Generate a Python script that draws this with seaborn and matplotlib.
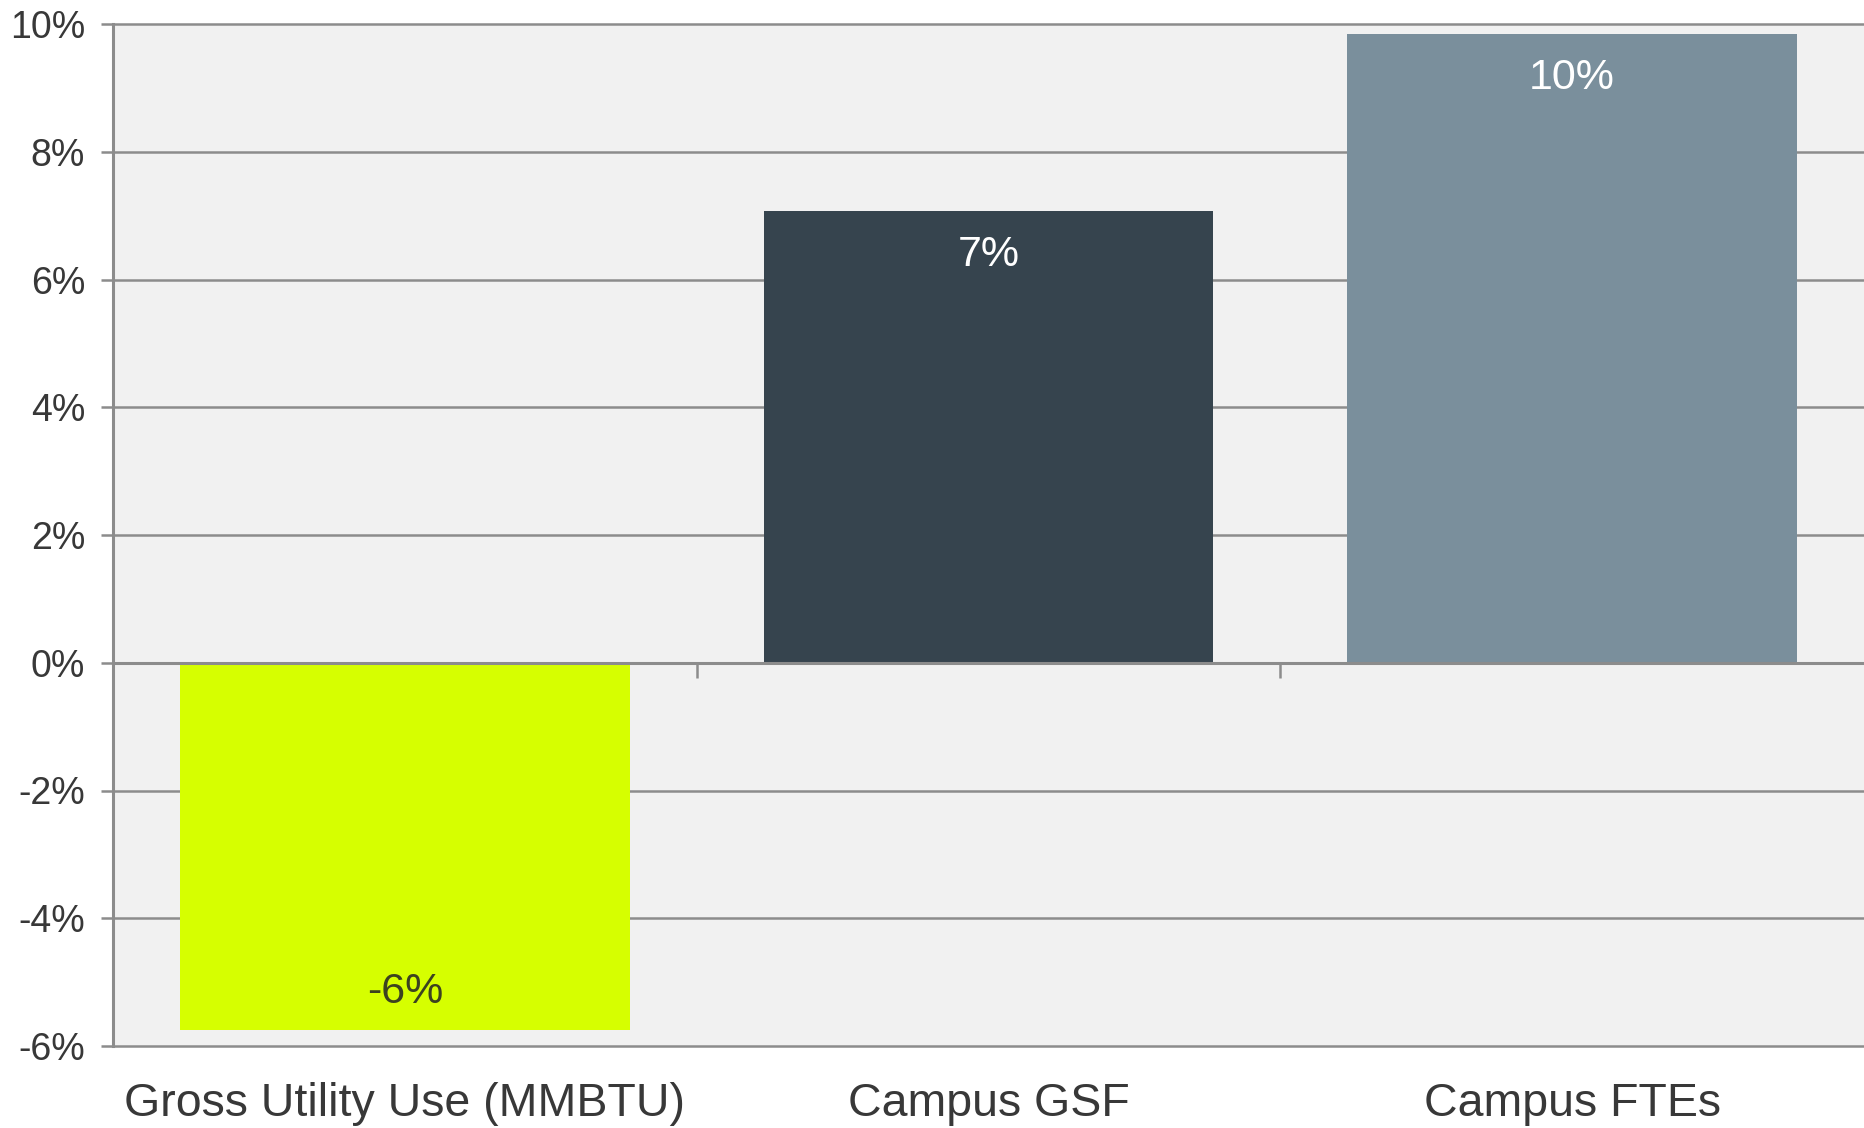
import matplotlib
matplotlib.use("Agg")
import matplotlib.pyplot as plt
import seaborn as sns
import pandas as pd

# ---- data ----
categories = ["Gross Utility Use (MMBTU)", "Campus GSF", "Campus FTEs"]
values = [-5.75, 7.07, 9.85]
value_labels = ["-6%", "7%", "10%"]
bar_colors = ["#d6ff00", "#36444e", "#7a8f9c"]
label_colors = ["#3c4220", "#ffffff", "#ffffff"]
ytick_values = [-6, -4, -2, 0, 2, 4, 6, 8, 10]
ytick_labels = ["-6%", "-4%", "-2%", "0%", "2%", "4%", "6%", "8%", "10%"]

sns.set_theme(style="white")
plt.rcParams["font.family"] = ["Liberation Sans", "DejaVu Sans"]

W, H = 1864, 1128
fig = plt.figure(figsize=(W / 100, H / 100), dpi=100)
fig.patch.set_facecolor("white")
left, top, bottom = 113, 24, 1046
ax = fig.add_axes([left / W, 1 - bottom / H, 1 - left / W, (bottom - top) / H])
ax.set_facecolor("#f1f1f1")

df = pd.DataFrame({"cat": categories, "val": values})
sns.barplot(data=df, x="cat", y="val", hue="cat", palette=bar_colors,
            width=0.77, saturation=1, ax=ax, legend=False, dodge=False,
            linewidth=0, edgecolor="none")

ax.set_xlim(-0.5, 2.5)
ax.set_ylim(min(ytick_values), max(ytick_values))
ax.set_xlabel("")
ax.set_ylabel("")

grid_c = "#8c8c8c"
ax.set_axisbelow(True)
ax.yaxis.grid(True, color=grid_c, lw=1.8)
for gl in ax.get_ygridlines():
    gl.set_clip_on(False)

ax.set_yticks(ytick_values, labels=ytick_labels)
ax.tick_params(axis="y", left=True, length=9, width=1.8, color=grid_c,
               pad=11, labelsize=27, labelcolor="#383838")

for s in ["top", "right"]:
    ax.spines[s].set_visible(False)
ax.spines["left"].set_color(grid_c)
ax.spines["left"].set_linewidth(2.2)
ax.spines["bottom"].set_position(("data", 0))
ax.spines["bottom"].set_color(grid_c)
ax.spines["bottom"].set_linewidth(2.2)

ax.set_xticks([0, 1, 2], labels=["", "", ""])
ax.set_xticks([0.5, 1.5], minor=True)
ax.tick_params(axis="x", which="major", length=0)
ax.tick_params(axis="x", which="minor", bottom=True, length=11, width=1.8,
               color=grid_c, direction="out")

sec = ax.secondary_xaxis("bottom")
sec.set_xticks([0, 1, 2], labels=categories)
sec.tick_params(length=0, pad=26, labelsize=33.5, labelcolor="#383838")
sec.spines["bottom"].set_visible(False)

# value labels inside bars
patches = [p for c in ax.containers for p in c]
for p, lab, col in zip(patches, value_labels, label_colors):
    h = p.get_height()
    end = p.get_y() + h
    off = -44 if h >= 0 else 38
    ax.annotate(lab, xy=(p.get_x() + p.get_width() / 2, end),
                xytext=(0, off), textcoords="offset pixels",
                ha="center", va="center", fontsize=31, color=col)

fig.savefig("out.png", dpi=100, facecolor="white")
